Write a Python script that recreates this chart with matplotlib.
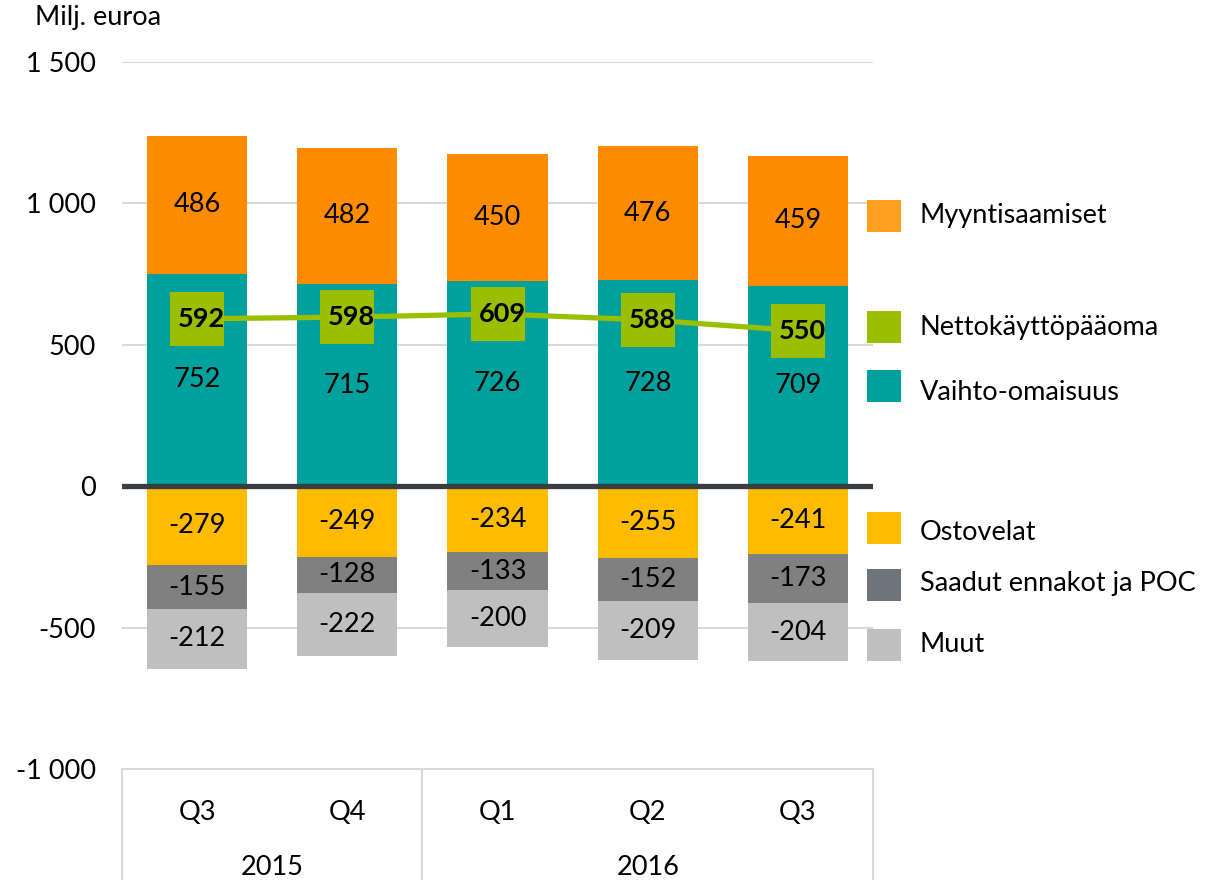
import matplotlib
matplotlib.use("Agg")
import matplotlib.pyplot as plt
from matplotlib.patches import Rectangle
from matplotlib.lines import Line2D

plt.rcParams['font.family'] = ['Lato', 'DejaVu Sans']

quarters = ["Q3", "Q4", "Q1", "Q2", "Q3"]
years = ["2015", "2016"]
year_spans = [(0, 1), (2, 4)]

vaihto = [752, 715, 726, 728, 709]
myynti = [486, 482, 450, 476, 459]
ostovelat = [-279, -249, -234, -255, -241]
ennakot = [-155, -128, -133, -152, -173]
muut = [-212, -222, -200, -209, -204]
netto = [592, 598, 609, 588, 550]

c_myynti = "#FF8C00"
c_vaihto = "#00A09D"
c_netto = "#9BBE00"
c_osto = "#FFBB00"
c_ennakot = "#808080"
c_muut = "#BFBFBF"

fs = 19.5

W, H = 1206, 880
fig = plt.figure(figsize=(W / 100, H / 100), dpi=100)
ax = fig.add_axes([122 / W, 1 - 769 / H, (873 - 122) / W, (769 - 62) / H])

x = list(range(len(quarters)))
bw = 0.667

ax.set_xlim(-0.5, 4.5)
ax.set_ylim(-1000, 1500)
for v in [1500, 1000, 500, -500]:
    ax.axhline(v, color="#D9D9D9", lw=1.5, zorder=0)

b1 = ax.bar(x, vaihto, bw, color=c_vaihto, zorder=2)
b2 = ax.bar(x, myynti, bw, bottom=vaihto, color=c_myynti, zorder=2)
b3 = ax.bar(x, ostovelat, bw, color=c_osto, zorder=2)
b4 = ax.bar(x, ennakot, bw, bottom=ostovelat, color=c_ennakot, zorder=2)
bottom_muut = [a + b for a, b in zip(ostovelat, ennakot)]
b5 = ax.bar(x, muut, bw, bottom=bottom_muut, color=c_muut, zorder=2)

for bars in [b1, b2, b3, b4, b5]:
    ax.bar_label(bars, label_type="center", fontsize=fs, color="black")

ax.axhline(0, color="#3A3D40", lw=3.8, zorder=3)

# net working capital line with square label boxes
ax.plot(x, netto, color=c_netto, lw=3.8, zorder=4)
ax.plot(x, netto, ls="none", marker="s", markersize=39, color=c_netto,
        markeredgewidth=0, zorder=4)
for xi, v in zip(x, netto):
    ax.text(xi + 0.03, v, str(v), ha="center", va="center", fontsize=fs,
            fontweight="bold", zorder=5)

# y axis
ax.set_yticks([1500, 1000, 500, 0, -500, -1000])
ax.set_yticklabels(["1 500", "1 000", "500", "0", "-500", "-1 000"])
ax.tick_params(axis="y", length=0, labelsize=fs, pad=19)
for s in ["top", "right", "left"]:
    ax.spines[s].set_visible(False)
ax.spines["bottom"].set_color("#D9D9D9")
ax.spines["bottom"].set_linewidth(1.5)

# category table under the axis
ax.set_xticks(x)
ax.set_xticklabels(quarters)
ax.tick_params(axis="x", length=0, labelsize=fs, pad=22)
trans = ax.get_xaxis_transform()
for xs in [-0.5, 1.5, 4.5]:
    ax.add_line(Line2D([xs, xs], [0, -0.2], transform=trans, color="#D9D9D9",
                       lw=1.5, clip_on=False))
for yr, (a, b) in zip(years, year_spans):
    ax.text((a + b) / 2, -0.14, yr, transform=trans, ha="center", va="center",
            fontsize=fs)

fig.text(35 / W, 1 - 18 / H, "Milj. euroa", fontsize=fs, ha="left", va="center")

# legend
legend_items = [
    ("Myyntisaamiset", "#FFA020", 216, 216),
    ("Nettokäyttöpääoma", c_netto, 327, 327),
    ("Vaihto-omaisuus", c_vaihto, 386, 392),
    ("Ostovelat", c_osto, 528, 532),
    ("Saadut ennakot ja POC", "#6D747B", 585, 583),
    ("Muut", c_muut, 645, 645),
]
for label, col, py, ty in legend_items:
    fig.add_artist(Rectangle((867 / W, 1 - (py + 16) / H), 34 / W, 32 / H,
                             transform=fig.transFigure, fc=col, ec="none"))
    fig.text(920 / W, 1 - ty / H, label, fontsize=fs, ha="left", va="center")

fig.savefig("out.png", dpi=100)
